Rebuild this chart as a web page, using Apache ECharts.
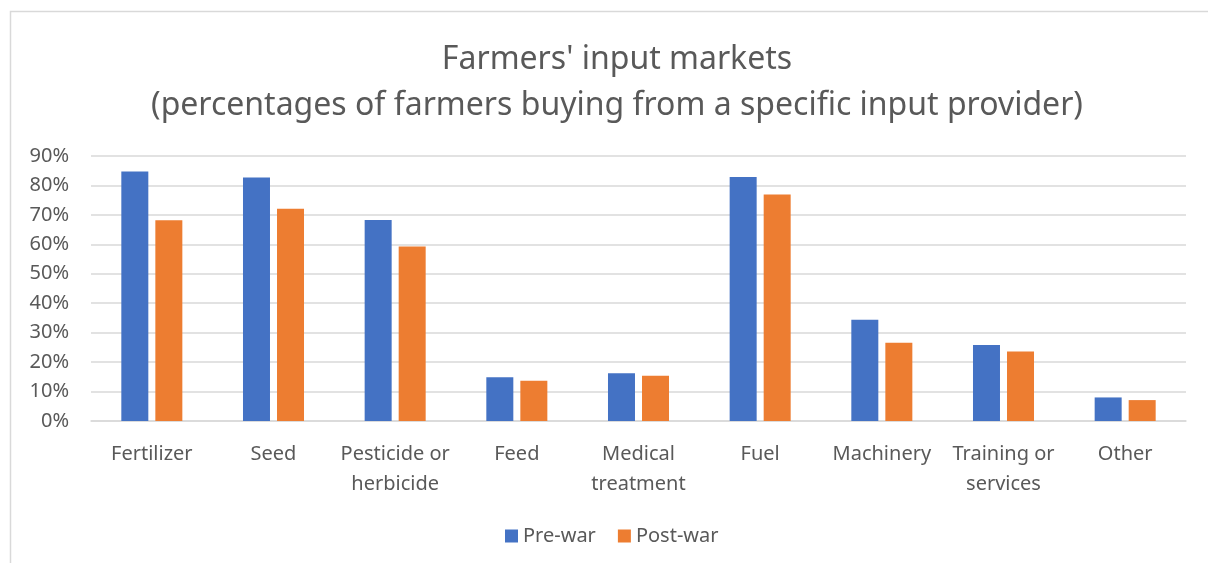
<!DOCTYPE html>
<html>
<head>
<meta charset="utf-8">
<script src="https://cdn.jsdelivr.net/npm/echarts@6/dist/echarts.min.js"></script>
<style>
  html, body { margin: 0; padding: 0; background: #fff; }
  #chart { width: 1208px; height: 563px; }
</style>
</head>
<body>
<div id="chart"></div>
<script>
var categories = ['Fertilizer', 'Seed', 'Pesticide or\nherbicide', 'Feed', 'Medical\ntreatment',
                  'Fuel', 'Machinery', 'Training or\nservices', 'Other'];
var preWar = [84.7, 82.7, 68.3, 14.9, 16.2, 82.9, 34.4, 25.8, 8.0];
var postWar = [68.2, 72.1, 59.3, 13.7, 15.4, 76.9, 26.6, 23.6, 7.1];

var font = 'Noto Sans';
var chart = echarts.init(document.getElementById('chart'));

chart.setOption({
    animation: false,
    backgroundColor: '#fff',
    title: {
        text: "Farmers' input markets\n(percentages of farmers buying from a specific input provider)",
        left: 612,
        top: 32,
        textAlign: 'center',
        textStyle: { fontFamily: font, fontSize: 32, fontWeight: 'normal', color: '#595959', lineHeight: 46 }
    },
    graphic: [{
        type: 'rect',
        shape: { x: 10.5, y: 11.5, width: 1220, height: 600 },
        style: { fill: 'none', stroke: '#d9d9d9', lineWidth: 1.5 },
        silent: true
    }],
    legend: {
        bottom: 12,
        left: 500,
        itemWidth: 13,
        itemHeight: 13,
        itemGap: 22,
        icon: 'rect',
        textStyle: { fontFamily: font, fontSize: 20, color: '#595959' }
    },
    grid: { left: 91, right: 22, top: 156, bottom: 142 },
    xAxis: {
        type: 'category',
        data: categories,
        axisLine: { lineStyle: { color: '#d9d9d9', width: 1.5 } },
        axisTick: { show: false },
        axisLabel: { fontFamily: font, fontSize: 20, color: '#595959', margin: 18, lineHeight: 30, interval: 0 }
    },
    yAxis: {
        type: 'value',
        min: 0,
        max: 90,
        interval: 10,
        axisLine: { show: false },
        axisTick: { show: false },
        splitLine: { lineStyle: { color: '#d9d9d9', width: 1.5 } },
        axisLabel: { fontFamily: font, fontSize: 20, color: '#595959', margin: 22, formatter: '{value}%' }
    },
    series: [
        { name: 'Pre-war', type: 'bar', data: preWar, barWidth: 27, barGap: '26%',
          itemStyle: { color: '#4472c4' } },
        { name: 'Post-war', type: 'bar', data: postWar, barWidth: 27,
          itemStyle: { color: '#ed7d31' } }
    ]
});
</script>
</body>
</html>
